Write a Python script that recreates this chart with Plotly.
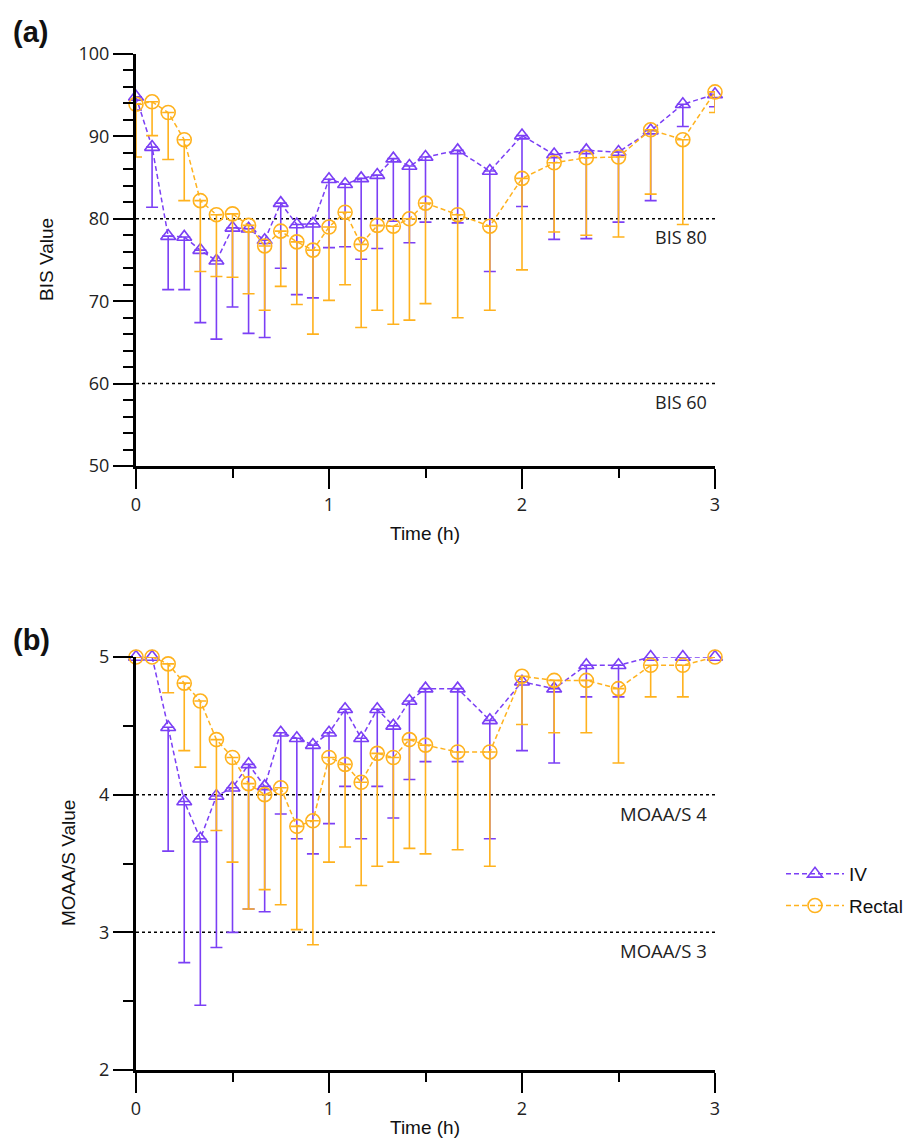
import plotly.graph_objects as go

# ---------------- data ----------------
time_min = [0, 5, 10, 15, 20, 25, 30, 35, 40, 45, 50, 55, 60, 65, 70, 75, 80, 85, 90,
            100, 110, 120, 130, 140, 150, 160, 170, 180]
time_h = [m / 60 for m in time_min]

iv_bis = [94.8, 88.7, 77.9, 77.8, 76.2, 74.9, 78.9, 78.8, 77.4, 81.9, 79.3, 79.4, 84.8, 84.2,
          84.9, 85.3, 87.3, 86.4, 87.5, 88.3, 85.8, 90.1, 87.8, 88.3, 88.1, 90.7, 93.9, 95.1]
iv_bis_low = [93.2, 81.4, 71.4, 71.4, 67.4, 65.4, 69.3, 66.1, 65.6, 74.0, 70.8, 70.4, 76.5, 76.6,
              75.1, 76.4, 79.7, 77.1, 79.6, 79.5, 73.6, 81.5, 77.5, 77.6, 79.6, 82.2, 91.2, 93.6]
rect_bis = [93.9, 94.2, 92.9, 89.6, 82.2, 80.5, 80.6, 79.2, 76.7, 78.5, 77.2, 76.2, 79.0, 80.8,
            76.9, 79.2, 79.1, 80.0, 81.9, 80.5, 79.1, 84.9, 86.8, 87.4, 87.5, 90.8, 89.6, 95.4]
rect_bis_low = [87.5, 90.1, 87.2, 82.2, 73.6, 73.0, 72.9, 70.9, 68.9, 71.8, 69.6, 66.0, 70.1, 72.0,
                66.8, 68.9, 67.2, 67.7, 69.7, 68.0, 68.9, 73.8, 78.4, 78.0, 77.8, 83.0, 79.3, 92.9]

iv_moaas = [5.0, 5.0, 4.49, 3.95, 3.68, 3.99, 4.05, 4.22, 4.06, 4.45, 4.41, 4.36, 4.45, 4.62,
            4.41, 4.62, 4.50, 4.68, 4.77, 4.77, 4.54, 4.82, 4.77, 4.94, 4.94, 5.0, 5.0, 5.0]
iv_moaas_low = [5.0, 5.0, 3.59, 2.78, 2.47, 2.89, 3.00, 3.17, 3.15, 3.86, 3.68, 3.57, 3.79, 4.06,
                3.68, 4.06, 3.83, 4.11, 4.24, 4.24, 3.68, 4.32, 4.23, 4.71, 4.71, 5.0, 5.0, 5.0]
rect_moaas = [5.0, 5.0, 4.95, 4.81, 4.68, 4.40, 4.27, 4.08, 4.00, 4.05, 3.77, 3.81, 4.27, 4.22,
              4.09, 4.30, 4.27, 4.40, 4.36, 4.31, 4.31, 4.86, 4.83, 4.83, 4.77, 4.94, 4.94, 5.0]
rect_moaas_low = [5.0, 5.0, 4.74, 4.32, 4.20, 3.74, 3.51, 3.17, 3.31, 3.20, 3.02, 2.91, 3.51, 3.62,
                  3.34, 3.48, 3.51, 3.61, 3.57, 3.60, 3.48, 4.51, 4.45, 4.45, 4.23, 4.71, 4.71, 5.0]

bis_refs = [80, 60]
bis_ref_labels = ["BIS 80", "BIS 60"]
moaas_refs = [4, 3]
moaas_ref_labels = ["MOAA/S 4", "MOAA/S 3"]

# ---------------- style ----------------
IV_COLOR = "#7B3FF5"
RE_COLOR = "#FFB21E"
OFF = 8                      # default page body margin
W, H = 912 - 2 * OFF, 1147 - 2 * OFF
TICK_FONT = dict(family="Open Sans", size=18, color="#222")
LABEL_FONT = dict(family="Liberation Sans, Arial", size=19, color="#111")


def px(xp):
    return (xp - OFF) / W


def py(yp):
    return 1 - (yp - OFF) / H


def series(x, y, low, color, symbol, size, name, xa, ya, show):
    minus = [a - b for a, b in zip(y, low)]
    return go.Scatter(
        x=x, y=y, name=name, legendgroup=name, showlegend=show,
        xaxis=xa, yaxis=ya, mode="lines+markers", cliponaxis=False,
        line=dict(color=color, width=1.5, dash="5px,3px"),
        marker=dict(symbol=symbol, size=size, color=color,
                    line=dict(color=color, width=1.6)),
        error_y=dict(type="data", symmetric=False, array=[0] * len(y),
                     arrayminus=minus, color=color, thickness=1.6, width=6),
    )


fig = go.Figure()
fig.add_trace(series(time_h, iv_bis, iv_bis_low, IV_COLOR, "triangle-up-open", 13, "IV", "x", "y", True))
fig.add_trace(series(time_h, rect_bis, rect_bis_low, RE_COLOR, "circle-open", 14, "Rectal", "x", "y", True))
fig.add_trace(series(time_h, iv_moaas, iv_moaas_low, IV_COLOR, "triangle-up-open", 13, "IV", "x2", "y2", False))
fig.add_trace(series(time_h, rect_moaas, rect_moaas_low, RE_COLOR, "circle-open", 14, "Rectal", "x2", "y2", False))

xd = [px(136), px(715)]
top_dom = [py(466), py(54)]
bot_dom = [py(1070), py(657)]

common_axis = dict(showgrid=False, zeroline=False, showline=True, linecolor="black",
                   linewidth=3, ticks="outside", tickcolor="black", tickwidth=2,
                   ticklen=20, tickfont=TICK_FONT, automargin=False)

fig.update_layout(
    width=W, height=H, margin=dict(l=0, r=0, t=0, b=0, autoexpand=False),
    plot_bgcolor="white", paper_bgcolor="white",
    xaxis=dict(domain=xd, anchor="y", range=[0, 3], dtick=1, tick0=0,
               minor=dict(dtick=0.5, ticklen=9, tickwidth=2, tickcolor="black"),
               **common_axis),
    yaxis=dict(domain=top_dom, anchor="x", range=[50, 100], dtick=10, tick0=50,
               minor=dict(dtick=2, ticklen=10, tickwidth=2, tickcolor="black"),
               **common_axis),
    xaxis2=dict(domain=xd, anchor="y2", range=[0, 3], dtick=1, tick0=0,
                minor=dict(dtick=0.5, ticklen=9, tickwidth=2, tickcolor="black"),
                **common_axis),
    yaxis2=dict(domain=bot_dom, anchor="x2", range=[2, 5], dtick=1, tick0=2,
                minor=dict(dtick=0.5, ticklen=10, tickwidth=2, tickcolor="black"),
                **common_axis),
    legend=dict(x=px(781), y=py(855), xanchor="left", yanchor="top",
                font=dict(family="Liberation Sans, Arial", size=19, color="#111"),
                bgcolor="rgba(0,0,0,0)", tracegroupgap=4, itemwidth=58),
    showlegend=True,
)

# reference lines + labels
for v, lab in zip(bis_refs, bis_ref_labels):
    fig.add_shape(type="line", xref="x", yref="y", x0=0, x1=3, y0=v, y1=v,
                  line=dict(color="black", width=1.5, dash="dot"), layer="below")
    fig.add_annotation(xref="x", yref="y", x=2.97, y=v, text=lab, showarrow=False,
                       xanchor="right", yanchor="top", yshift=-4,
                       font=dict(family="Open Sans", size=18, color="#222"))
for v, lab in zip(moaas_refs, moaas_ref_labels):
    fig.add_shape(type="line", xref="x2", yref="y2", x0=0, x1=3, y0=v, y1=v,
                  line=dict(color="black", width=1.5, dash="dot"), layer="below")
    fig.add_annotation(xref="x2", yref="y2", x=2.97, y=v, text=lab, showarrow=False,
                       xanchor="right", yanchor="top", yshift=-4,
                       font=dict(family="Open Sans", size=18.5, color="#222"))


# axis titles (page-pixel positions)
def pa(text, x, y, angle=0, font=LABEL_FONT):
    fig.add_annotation(xref="paper", yref="paper", x=px(x), y=py(y), text=text,
                       showarrow=False, xanchor="center", yanchor="middle",
                       textangle=angle, font=font)


pa("BIS Value", 46, 260, -90)
pa("Time (h)", 425, 533)
pa("MOAA/S Value", 68, 863, -90)
pa("Time (h)", 425, 1127)

PANEL_FONT = dict(family="Liberation Sans, Arial", size=29, color="#111")
fig.add_annotation(xref="paper", yref="paper", x=px(11), y=py(32), text="<b>(a)</b>",
                   showarrow=False, xanchor="left", yanchor="middle", font=PANEL_FONT)
fig.add_annotation(xref="paper", yref="paper", x=px(11), y=py(640), text="<b>(b)</b>",
                   showarrow=False, xanchor="left", yanchor="middle", font=PANEL_FONT)

fig.write_html("out.html")
